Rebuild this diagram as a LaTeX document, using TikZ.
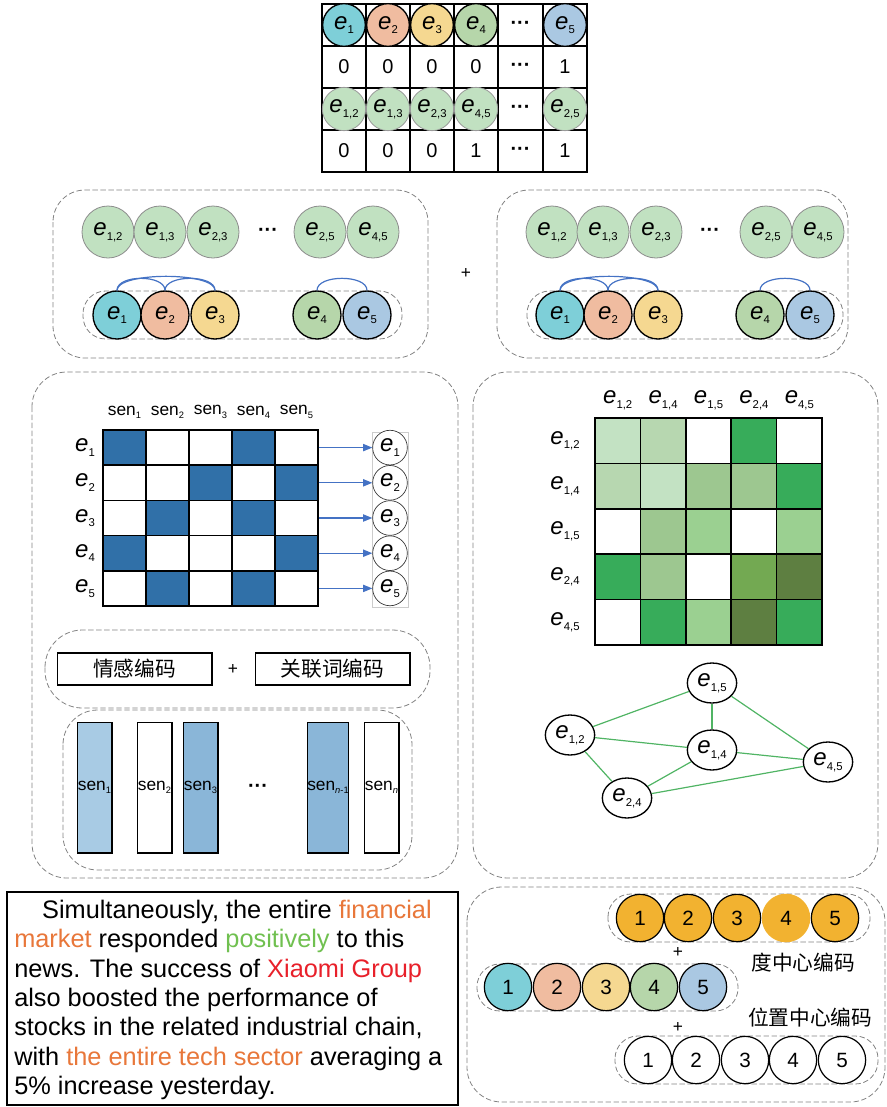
\documentclass[tikz,border=0pt]{standalone}
\usepackage{fontspec}
\setmainfont{Liberation Sans}
\newfontfamily\cjk{Noto Sans CJK SC}
\usetikzlibrary{arrows.meta,shapes.geometric}

\definecolor{cA}{RGB}{126,207,216}
\definecolor{cB}{RGB}{240,188,160}
\definecolor{cC}{RGB}{245,216,145}
\definecolor{cD}{RGB}{182,214,170}
\definecolor{cE}{RGB}{170,200,226}
\definecolor{pairgreen}{RGB}{193,225,193}
\definecolor{cellblue}{RGB}{48,112,168}
\definecolor{arcblue}{RGB}{68,114,196}
\definecolor{barlight}{RGB}{168,203,228}
\definecolor{barmid}{RGB}{138,182,216}
\definecolor{gA}{RGB}{195,226,195}
\definecolor{gB}{RGB}{183,215,176}
\definecolor{gC}{RGB}{157,199,144}
\definecolor{gD}{RGB}{155,208,145}
\definecolor{gE}{RGB}{55,172,90}
\definecolor{gF}{RGB}{115,169,82}
\definecolor{gG}{RGB}{94,127,65}
\definecolor{edgegreen}{RGB}{80,180,100}
\definecolor{degorange}{RGB}{242,178,48}
\definecolor{dashgray}{RGB}{130,130,130}
\definecolor{txtorange}{RGB}{232,119,58}
\definecolor{txtgreen}{RGB}{112,192,80}
\definecolor{txtred}{RGB}{232,32,42}

\newcommand{\ent}[1]{{\fontsize{18}{20}\selectfont\textit{e}}\raisebox{-3.5pt}{\fontsize{8.5}{9}\selectfont #1}}
\newcommand{\sen}[1]{{\fontsize{13}{15}\selectfont sen}\raisebox{-2.5pt}{\fontsize{7}{8}\selectfont #1}}
\newcommand{\dotrow}{{\fontsize{15}{17}\selectfont\textbf{···}}}

\begin{document}
\begin{tikzpicture}[x=0.75pt,y=0.75pt,yscale=-1,xscale=1,
  tabline/.style={line width=1.1pt},
  tabc/.style={circle,draw=black,line width=1pt,inner sep=0pt,minimum size=32pt},
  tabpair/.style={circle,draw=black!40,line width=0.6pt,fill=pairgreen,inner sep=0pt,minimum size=32.5pt},
  entc/.style={circle,draw=black,line width=1pt,inner sep=0pt,minimum size=36pt},
  pairc/.style={circle,draw=black!45,line width=0.6pt,fill=pairgreen,inner sep=0pt,minimum size=39pt},
  numc/.style={circle,draw=black,line width=0.9pt,inner sep=0pt,minimum size=35.5pt,font=\fontsize{15.5}{17}\selectfont},
  numtxt/.style={font=\fontsize{15}{17}\selectfont},
  dashbox/.style={draw=dashgray,dash pattern=on 4pt off 2pt,line width=0.6pt,rounded corners=24pt},
  pill/.style={draw=dashgray,dash pattern=on 4pt off 2pt,line width=0.6pt,rounded corners=17pt},
  arcline/.style={draw=arcblue,line width=0.9pt},
  sencell/.style={draw=black,line width=1.1pt,minimum width=32.25pt,minimum height=26.4pt,inner sep=0pt},
  relcell/.style={draw=black,line width=1.1pt,minimum size=34pt,inner sep=0pt},
  smallc/.style={circle,draw=black!80,line width=0.5pt,fill=white,inner sep=0pt,minimum size=26pt},
  codebox/.style={draw=black,line width=1pt,minimum width=116pt,minimum height=24pt,font=\cjk\fontsize{15.5}{17}\selectfont},
  senbar/.style={draw=black,line width=1pt,minimum width=26pt,minimum height=98pt,inner sep=0pt},
  gnode/.style={ellipse,draw=black,line width=1pt,fill=white,inner sep=0pt,minimum width=37pt,minimum height=30pt},
  gedge/.style={draw=edgegreen,line width=0.9pt},
  plus/.style={font=\fontsize{13}{15}\selectfont}]
\useasboundingbox (0,0) rectangle (887,1107);

% top table
\draw[tabline] (322,4) rectangle (587,172);
\foreach \x in {366,410,454,498,543} \draw[tabline] (\x,4) -- (\x,172);
\foreach \y in {46,88,130} \draw[tabline] (322,\y) -- (587,\y);
\node[tabc,fill=cA] (t1) at (344,25) {\ent{1}};
\node[tabc,fill=cB] (t2) at (388,25) {\ent{2}};
\node[tabc,fill=cC] (t3) at (432,25) {\ent{3}};
\node[tabc,fill=cD] (t4) at (476,25) {\ent{4}};
\node (tdots1) at (520.5,25) {\dotrow};
\node[tabc,fill=cE] (t5) at (565,25) {\ent{5}};
\node[numtxt] (n1) at (344,67) {0};
\node[numtxt] (n2) at (388,67) {0};
\node[numtxt] (n3) at (432,67) {0};
\node[numtxt] (n4) at (476,67) {0};
\node (tdots2) at (520.5,67) {\dotrow};
\node[numtxt] (n5) at (565,67) {1};
\node[tabpair] (tp1) at (344,109) {\ent{1,2}};
\node[tabpair] (tp2) at (388,109) {\ent{1,3}};
\node[tabpair] (tp3) at (432,109) {\ent{2,3}};
\node[tabpair] (tp4) at (476,109) {\ent{4,5}};
\node (tdots3) at (520.5,109) {\dotrow};
\node[tabpair] (tp5) at (565,109) {\ent{2,5}};
\node[numtxt] (m1) at (344,151) {0};
\node[numtxt] (m2) at (388,151) {0};
\node[numtxt] (m3) at (432,151) {0};
\node[numtxt] (m4) at (476,151) {1};
\node (tdots4) at (520.5,151) {\dotrow};
\node[numtxt] (m5) at (565,151) {1};

% entity and pair sets, left
\draw[dashbox] (53,190) rectangle (428,358);
\node[pairc] (lp12) at (108,232) {\ent{1,2}};
\node[pairc] (lp13) at (160,232) {\ent{1,3}};
\node[pairc] (lp23) at (213,232) {\ent{2,3}};
\node (ldots) at (268,232) {\dotrow};
\node[pairc] (lp25) at (320,232) {\ent{2,5}};
\node[pairc] (lp45) at (373,232) {\ent{4,5}};
\draw[pill] (83,291) rectangle (402,339);
\node[entc,fill=cA] (l1) at (117,315) {\ent{1}};
\node[entc,fill=cB] (l2) at (165,315) {\ent{2}};
\node[entc,fill=cC] (l3) at (215,315) {\ent{3}};
\node[entc,fill=cD] (l4) at (317,315) {\ent{4}};
\node[entc,fill=cE] (l5) at (367,315) {\ent{5}};
\draw[arcline] (l1.north) .. controls ([yshift=-14pt]l1.north) and ([yshift=-14pt]l3.north) .. (l3.north);
\draw[arcline] (l1.north) .. controls ([yshift=-12pt]l1.north) and ([yshift=-12pt]l2.north) .. (l2.north);
\draw[arcline] (l2.north) .. controls ([yshift=-12pt]l2.north) and ([yshift=-12pt]l3.north) .. (l3.north);
\draw[arcline] (l4.north) .. controls ([yshift=-12pt]l4.north) and ([yshift=-12pt]l5.north) .. (l5.north);

\node[plus] (plus1) at (466,273) {+};

% entity and pair sets, right
\draw[dashbox] (497,190) rectangle (848,358);
\node[pairc] (rp12) at (552,232) {\ent{1,2}};
\node[pairc] (rp13) at (603,232) {\ent{1,3}};
\node[pairc] (rp23) at (656,232) {\ent{2,3}};
\node (rdots) at (710,232) {\dotrow};
\node[pairc] (rp25) at (766,232) {\ent{2,5}};
\node[pairc] (rp45) at (818,232) {\ent{4,5}};
\draw[pill] (527,291) rectangle (843,339);
\node[entc,fill=cA] (r1) at (560,315) {\ent{1}};
\node[entc,fill=cB] (r2) at (608,315) {\ent{2}};
\node[entc,fill=cC] (r3) at (658,315) {\ent{3}};
\node[entc,fill=cD] (r4) at (760,315) {\ent{4}};
\node[entc,fill=cE] (r5) at (810,315) {\ent{5}};
\draw[arcline] (r1.north) .. controls ([yshift=-14pt]r1.north) and ([yshift=-14pt]r3.north) .. (r3.north);
\draw[arcline] (r1.north) .. controls ([yshift=-12pt]r1.north) and ([yshift=-12pt]r2.north) .. (r2.north);
\draw[arcline] (r2.north) .. controls ([yshift=-12pt]r2.north) and ([yshift=-12pt]r3.north) .. (r3.north);
\draw[arcline] (r4.north) .. controls ([yshift=-12pt]r4.north) and ([yshift=-12pt]r5.north) .. (r5.north);

% sentence matrix and encodings
\draw[dashbox,rounded corners=26pt] (32,372) rectangle (458,878);
\foreach \i in {1,...,5}
  \node (sl\i) at ({103+43*(\i-0.5)},412) {\sen{\i}};
\foreach \pat [count=\r] in {{cellblue,white,white,cellblue,white},{white,white,cellblue,white,cellblue},{white,cellblue,white,cellblue,white},{cellblue,white,white,white,cellblue},{white,cellblue,white,cellblue,white}}{
  \node (el\r) at (85,{430+35.2*(\r-0.5)}) {\ent{\r}};
  \foreach \f [count=\c] in \pat
    \node[sencell,fill=\f] (s\r\c) at ({103+43*(\c-0.5)},{430+35.2*(\r-0.5)}) {};
}
\draw[black!20,line width=0.5pt] (372,432) rectangle (408,607);
\foreach \r in {1,...,5}{
  \node[smallc] (c\r) at (390,{430+35.2*(\r-0.5)}) {\ent{\r}};
  \draw[arcline,-{Triangle[length=7pt,width=5.5pt]}] (s\r5.east) -- (c\r.west);
}

\draw[dashbox,rounded corners=28pt] (45,630) rectangle (430,708);
\node[codebox] (emo) at (134.5,669) {情感编码};
\node[plus] (plus2) at (233,669) {+};
\node[codebox] (rel) at (332.5,669) {关联词编码};

\draw[dashbox,rounded corners=26pt] (63,710) rectangle (412,870);
\node[senbar,fill=barlight] (b1) at (94.5,787.5) {\sen{1}};
\node[senbar,fill=white] (b2) at (154.5,787.5) {\sen{2}};
\node[senbar,fill=barmid] (b3) at (200.5,787.5) {\sen{3}};
\node (bdots) at (258,788) {\dotrow};
\node[senbar,fill=barmid] (b4) at (328,787.5) {\sen{\textit{n}-1}};
\node[senbar,fill=white] (b5) at (381.5,787.5) {\sen{\textit{n}}};

% pair relation matrix and graph
\draw[dashbox,rounded corners=26pt] (473,372) rectangle (878,878);
\foreach \lab [count=\i] in {{1,2},{1,4},{1,5},{2,4},{4,5}}{
  \node (cl\i) at ({595+45.4*(\i-0.5)},400) {\ent{\lab}};
  \node (rl\i) at (565,{418+45.4*(\i-0.5)}) {\ent{\lab}};
}
\foreach \pat [count=\r] in {{gA,gB,white,gE,white},{gB,gA,gC,gC,gE},{white,gC,gD,white,gD},{gE,gC,white,gF,gG},{white,gE,gD,gG,gE}}
  \foreach \f [count=\c] in \pat
    \node[relcell,fill=\f] (q\r\c) at ({595+45.4*(\c-0.5)},{418+45.4*(\r-0.5)}) {};

\node[gnode] (g15) at (712,683) {\ent{1,5}};
\node[gnode] (g12) at (570,735) {\ent{1,2}};
\node[gnode] (g14) at (712,750) {\ent{1,4}};
\node[gnode] (g45) at (828,762) {\ent{4,5}};
\node[gnode] (g24) at (627,798) {\ent{2,4}};
\draw[gedge] (g12) -- (g15);
\draw[gedge] (g12) -- (g14);
\draw[gedge] (g12) -- (g24);
\draw[gedge] (g15) -- (g14);
\draw[gedge] (g15) -- (g45);
\draw[gedge] (g14) -- (g45);
\draw[gedge] (g14) -- (g24);
\draw[gedge] (g24) -- (g45);

% news text
\draw[line width=0.8pt] (7,892) rectangle (458,1105);
\node[anchor=north west,inner sep=0pt,align=left,font=\fontsize{19}{22}\selectfont] (news) at (14,900)
{\hspace*{1.1em}Simultaneously, the entire \textcolor{txtorange}{financial}\\
\textcolor{txtorange}{market} responded \textcolor{txtgreen}{positively} to this\\
news. The success of \textcolor{txtred}{Xiaomi Group}\\
also boosted the performance of\\
stocks in the related industrial chain,\\
with \textcolor{txtorange}{the entire tech sector} averaging a\\
5\% increase yesterday.};

% centrality encodings
\draw[dashbox,rounded corners=26pt] (467,887) rectangle (885,1102);
\draw[pill] (608,894) rectangle (870,942);
\node[numc,fill=degorange] (d1) at (640,918) {1};
\node[numc,fill=degorange] (d2) at (688,918) {2};
\node[numc,fill=degorange] (d3) at (737,918) {3};
\node[numc,fill=degorange,draw=degorange] (d4) at (786,918) {4};
\node[numc,fill=degorange] (d5) at (835,918) {5};
\node[plus] (plus3) at (678,952) {+};
\node[font=\cjk\fontsize{15.5}{17}\selectfont] (degtxt) at (803,963) {度中心编码};
\draw[pill] (477,964) rectangle (738,1011);
\node[numc,fill=cA] (k1) at (508,987) {1};
\node[numc,fill=cB] (k2) at (557,987) {2};
\node[numc,fill=cC] (k3) at (606,987) {3};
\node[numc,fill=cD] (k4) at (654,987) {4};
\node[numc,fill=cE] (k5) at (703,987) {5};
\node[plus] (plus4) at (678,1027) {+};
\node[font=\cjk\fontsize{15.5}{17}\selectfont] (postxt) at (810,1018) {位置中心编码};
\draw[pill] (615,1036) rectangle (878,1084);
\node[numc,fill=white] (w1) at (648,1060) {1};
\node[numc,fill=white] (w2) at (696,1060) {2};
\node[numc,fill=white] (w3) at (745,1060) {3};
\node[numc,fill=white] (w4) at (793,1060) {4};
\node[numc,fill=white] (w5) at (842,1060) {5};

\end{tikzpicture}
\end{document}
